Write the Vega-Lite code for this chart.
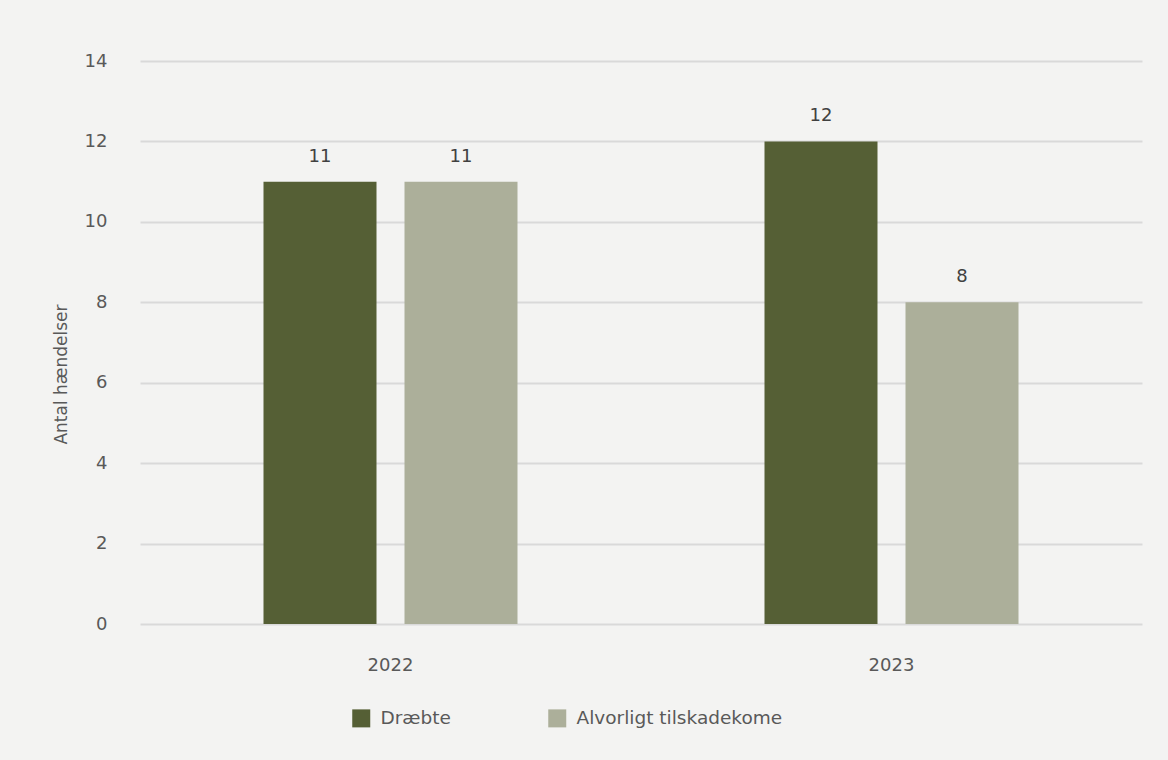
{
  "$schema": "https://vega.github.io/schema/vega-lite/v6.json",
  "width": 1002,
  "height": 563,
  "autosize": {"type": "none"},
  "padding": {"left": 140, "top": 61, "right": 26, "bottom": 136},
  "background": "#f3f3f2",
  "config": {
    "view": {"stroke": null},
    "font": "DejaVu Sans",
    "axis": {"labelFont": "DejaVu Sans", "titleFont": "DejaVu Sans"},
    "legend": {"labelFont": "DejaVu Sans"}
  },
  "data": {
    "values": [
      {"year": "2022", "series": "Dræbte", "value": 11},
      {"year": "2022", "series": "Alvorligt tilskadekome", "value": 11},
      {"year": "2023", "series": "Dræbte", "value": 12},
      {"year": "2023", "series": "Alvorligt tilskadekome", "value": 8}
    ]
  },
  "encoding": {
    "x": {
      "field": "year",
      "type": "nominal",
      "scale": {"paddingInner": 0.493, "paddingOuter": 0.2465},
      "axis": {
        "title": null,
        "labelAngle": 0,
        "domain": false,
        "ticks": false,
        "labelPadding": 32,
        "labelBaseline": "top",
        "labelFontSize": 18,
        "labelColor": "#595959"
      }
    },
    "xOffset": {
      "field": "series",
      "type": "nominal",
      "sort": ["Dræbte", "Alvorligt tilskadekome"],
      "scale": {"paddingInner": 0.1986, "paddingOuter": 0}
    },
    "y": {
      "field": "value",
      "type": "quantitative",
      "scale": {"domain": [0, 14], "nice": false},
      "axis": {
        "title": "Antal hændelser",
        "titleFontSize": 17,
        "titleFontWeight": "normal",
        "titleColor": "#595959",
        "titlePadding": 14,
        "titleY": 313,
        "titleAlign": "center",
        "values": [0, 2, 4, 6, 8, 10, 12, 14],
        "domain": false,
        "ticks": false,
        "labelPadding": 33,
        "labelFontSize": 18,
        "labelColor": "#595959",
        "gridColor": "#d9d9d9",
        "gridWidth": 2
      }
    }
  },
  "layer": [
    {
      "mark": {"type": "bar"},
      "encoding": {
        "color": {
          "field": "series",
          "type": "nominal",
          "sort": ["Dræbte", "Alvorligt tilskadekome"],
          "scale": {
            "domain": ["Dræbte", "Alvorligt tilskadekome"],
            "range": ["#555f35", "#acaf9a"]
          },
          "legend": {
            "title": null,
            "orient": "none",
            "direction": "horizontal",
            "legendX": 212,
            "legendY": 648,
            "symbolType": "square",
            "symbolSize": 324,
            "symbolStrokeWidth": 0,
            "labelFontSize": 18.5,
            "labelColor": "#595959",
            "labelOffset": 10,
            "columnPadding": 97,
            "labelLimit": 400
          }
        }
      }
    },
    {
      "mark": {"type": "text", "dy": -16, "baseline": "bottom", "fontSize": 18, "color": "#404040"},
      "encoding": {
        "text": {"field": "value", "type": "quantitative"}
      }
    }
  ]
}
